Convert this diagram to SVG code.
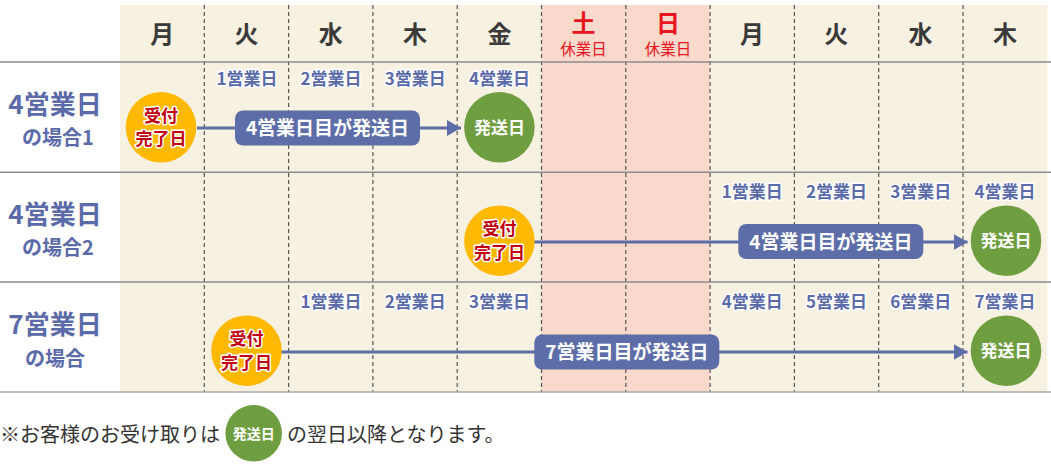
<svg xmlns="http://www.w3.org/2000/svg" width="1051" height="466" viewBox="0 0 1051 466">
<defs>
<style>
text{font-family:"Noto Sans CJK JP","Noto Sans",sans-serif;text-anchor:middle;}
.day{font-size:24px;font-weight:bold;fill:#3a3a3a;}
.hol{font-size:24px;font-weight:bold;fill:#e8141e;}
.holsub{font-size:15.5px;fill:#e8141e;}
.vl{stroke:#555;stroke-width:1.2;stroke-dasharray:4 3;fill:none;}
.hl{stroke:#8c8c8c;stroke-width:1.6;fill:none;}
.nth{font-size:17px;font-weight:bold;fill:#5b6aa8;stroke:#fff;stroke-width:3;paint-order:stroke;stroke-linejoin:round;}
.lab1{font-size:26px;font-weight:bold;fill:#5b6aa8;}
.lab2{font-size:20px;font-weight:bold;fill:#5b6aa8;}
.rc{fill:#ffb900;}
.rct{font-size:17px;font-weight:bold;fill:#c00010;stroke:#fff;stroke-width:3;paint-order:stroke;stroke-linejoin:round;}
.sc{fill:#6f9e41;}
.sct{font-size:17px;font-weight:bold;fill:#fff;}
.pill{fill:#5d6da8;}
.pt{font-size:19px;font-weight:bold;fill:#fff;}
.ln{stroke:#5d6da8;stroke-width:3;fill:none;}
.note{font-size:20px;fill:#333;text-anchor:start;}
</style>
<marker id="ah" markerWidth="14" markerHeight="16" refX="14" refY="8" orient="auto" markerUnits="userSpaceOnUse">
<path d="M0,0 L14,8 L0,16 Z" fill="#5d6da8"/>
</marker>
</defs>
<rect width="1051" height="466" fill="#fff"/>
<g id="grid">
<rect x="120" y="5" width="927.3" height="387" fill="#f7f1e1"/>
<rect x="541.5" y="5" width="168.6" height="387" fill="#f8d9cb"/>
<path class="vl" d="M204.3,5V392M288.6,5V392M372.9,5V392M457.2,5V392M541.5,5V392M625.8,5V392M710.1,5V392M794.4,5V392M878.7,5V392M963,5V392"/>
<path class="hl" d="M0,62H1051M0,172.3H1051M0,282H1051"/>
<path d="M0,392H1051" stroke="#aaa" stroke-width="1.6"/>
</g>
<g id="header">
<text class="day" x="162.2" y="43">月</text>
<text class="day" x="246.5" y="43">火</text>
<text class="day" x="330.8" y="43">水</text>
<text class="day" x="415" y="43">木</text>
<text class="day" x="499.4" y="43">金</text>
<text class="hol" x="583.6" y="32">土</text>
<text class="holsub" x="583.6" y="55">休業日</text>
<text class="hol" x="667.9" y="32">日</text>
<text class="holsub" x="667.9" y="55">休業日</text>
<text class="day" x="752" y="43">月</text>
<text class="day" x="836.3" y="43">火</text>
<text class="day" x="920.6" y="43">水</text>
<text class="day" x="1004.9" y="43">木</text>
</g>
<g id="row-labels">
<text class="lab1" x="55" y="114">4営業日</text>
<text class="lab2" x="58" y="145">の場合1</text>
<text class="lab1" x="55" y="224">4営業日</text>
<text class="lab2" x="58" y="255">の場合2</text>
<text class="lab1" x="55" y="334">7営業日</text>
<text class="lab2" x="55" y="366">の場合</text>
</g>
<g id="day-counts">
<text class="nth" x="247" y="84.5">1営業日</text>
<text class="nth" x="331" y="84.5">2営業日</text>
<text class="nth" x="415.3" y="84.5">3営業日</text>
<text class="nth" x="499.6" y="84.5">4営業日</text>
<text class="nth" x="752.2" y="197.5">1営業日</text>
<text class="nth" x="836.5" y="197.5">2営業日</text>
<text class="nth" x="920.8" y="197.5">3営業日</text>
<text class="nth" x="1005.1" y="197.5">4営業日</text>
<text class="nth" x="331" y="308">1営業日</text>
<text class="nth" x="415.3" y="308">2営業日</text>
<text class="nth" x="499.6" y="308">3営業日</text>
<text class="nth" x="752.2" y="308">4営業日</text>
<text class="nth" x="836.5" y="308">5営業日</text>
<text class="nth" x="920.8" y="308">6営業日</text>
<text class="nth" x="1005.1" y="308">7営業日</text>
</g>
<g id="connectors">
<path class="ln" d="M197,128H461" marker-end="url(#ah)"/>
<path class="ln" d="M534,242H967.5" marker-end="url(#ah)"/>
<path class="ln" d="M281,352H967.5" marker-end="url(#ah)"/>
</g>
<g id="pill1">
<rect class="pill" x="235" y="110.5" width="185" height="35" rx="8"/>
<text class="pt" x="327.5" y="135">4営業日目が発送日</text>
</g>
<g id="pill2">
<rect class="pill" x="738.3" y="224" width="185" height="35" rx="8"/>
<text class="pt" x="830.8" y="248.5">4営業日目が発送日</text>
</g>
<g id="pill3">
<rect class="pill" x="534.3" y="334.5" width="185" height="35" rx="8"/>
<text class="pt" x="626.8" y="359">7営業日目が発送日</text>
</g>
<g id="receipt1">
<circle class="rc" cx="161" cy="127.3" r="35.3"/>
<text class="rct" x="161" y="121.5">受付</text>
<text class="rct" x="161" y="145">完了日</text>
</g>
<g id="receipt2">
<circle class="rc" cx="499.4" cy="240.7" r="35.3"/>
<text class="rct" x="499.4" y="235">受付</text>
<text class="rct" x="499.4" y="258.5">完了日</text>
</g>
<g id="receipt3">
<circle class="rc" cx="246.5" cy="350.7" r="35.3"/>
<text class="rct" x="246.5" y="345">受付</text>
<text class="rct" x="246.5" y="368.5">完了日</text>
</g>
<g id="ship1">
<circle class="sc" cx="499.4" cy="127.3" r="35.3"/>
<text class="sct" x="499.4" y="133.5">発送日</text>
</g>
<g id="ship2">
<circle class="sc" cx="1006" cy="240.7" r="35.3"/>
<text class="sct" x="1006" y="247">発送日</text>
</g>
<g id="ship3">
<circle class="sc" cx="1006" cy="350.7" r="35.3"/>
<text class="sct" x="1006" y="357">発送日</text>
</g>
<g id="footnote">
<text class="note" x="0" y="442">※お客様のお受け取りは</text>
<circle class="sc" cx="253.7" cy="433.3" r="28.3"/>
<text class="sct" x="253.7" y="438.5" style="font-size:14px">発送日</text>
<text class="note" x="287" y="442">の翌日以降となります。</text>
</g>
</svg>
